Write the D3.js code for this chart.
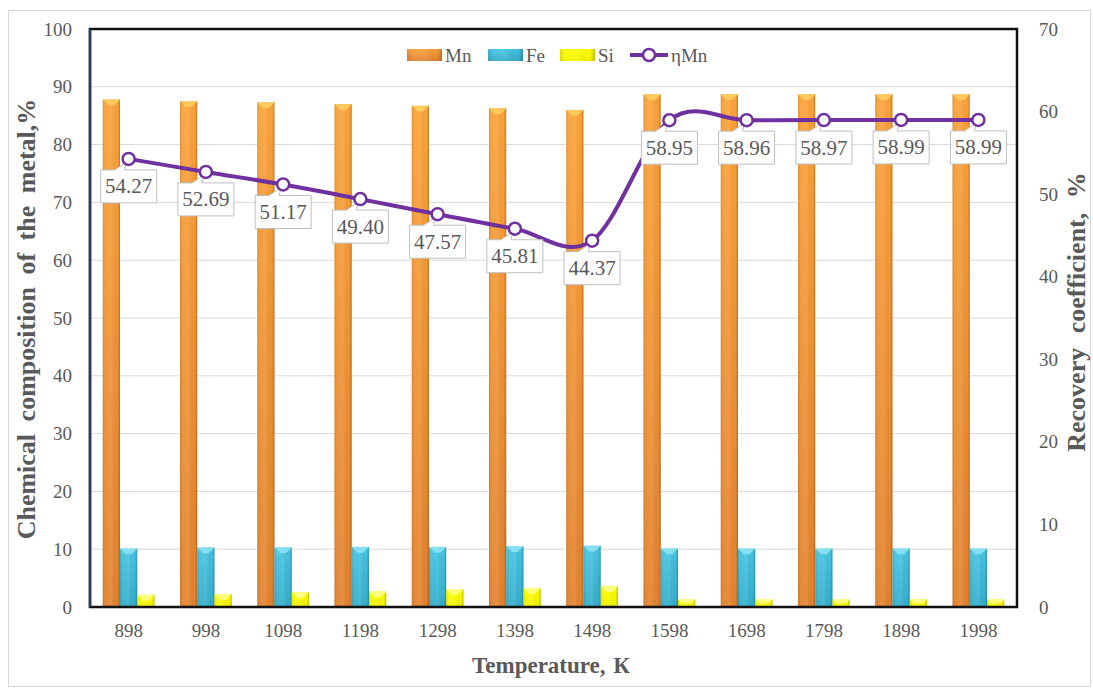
<!DOCTYPE html>
<html><head><meta charset="utf-8">
<script src="https://cdn.jsdelivr.net/npm/d3@7"></script>
<style>html,body{margin:0;padding:0;background:#fff;}svg{display:block;}
svg text{font-family:"Liberation Serif","Times New Roman",Tinos,"DejaVu Serif",serif;}</style>
</head><body>
<svg id="c" width="1093" height="688"></svg>
<script>
const categories = ["898","998","1098","1198","1298","1398","1498","1598","1698","1798","1898","1998"];
const mnValues = [87.8,87.5,87.3,87.0,86.7,86.3,86.0,88.7,88.7,88.7,88.7,88.7];
const feValues = [10.1,10.3,10.3,10.4,10.4,10.5,10.6,10.1,10.1,10.1,10.1,10.1];
const siValues = [2.1,2.25,2.6,2.7,3.1,3.3,3.6,1.3,1.3,1.3,1.3,1.3];
const etaMn = [54.27,52.69,51.17,49.40,47.57,45.81,44.37,58.95,58.96,58.97,58.99,58.99];
const etaLabels = ["54.27","52.69","51.17","49.40","47.57","45.81","44.37","58.95","58.96","58.97","58.99","58.99"];
const leftTicks = [0,10,20,30,40,50,60,70,80,90,100];
const rightTicks = [0,10,20,30,40,50,60,70];
const seriesNames = ["Mn","Fe","Si"];

const svg = d3.select("#c");
const L=90,R=1017,T=29,B=607;
const gray = "#595959";

const defs = svg.append("defs");
function vgrad(id, top, bottom){
  const g = defs.append("linearGradient").attr("id",id).attr("x1","0").attr("x2","0").attr("y1","0").attr("y2","1");
  g.append("stop").attr("offset",0).attr("stop-color",top);
  g.append("stop").attr("offset",1).attr("stop-color",bottom);
}
vgrad("gMn","#FBA23A","#E2822E");
vgrad("gFe","#46C4E2","#34ADCB");
vgrad("gSi","#FFFF00","#F2F200");
const shade = defs.append("linearGradient").attr("id","shade").attr("x1","0").attr("x2","1").attr("y1","0").attr("y2","0");
[[0,"#000",0.12],[0.15,"#fff",0.05],[0.5,"#fff",0.1],[0.85,"#000",0.0],[1,"#000",0.22]].forEach(s=>
  shade.append("stop").attr("offset",s[0]).attr("stop-color",s[1]).attr("stop-opacity",s[2]));
const fills = {Mn:"url(#gMn)",Fe:"url(#gFe)",Si:"url(#gSi)"};
const tops = {Mn:"#FFD060",Fe:"#8FE3F5",Si:"#FFFF90"};

svg.append("rect").attr("x",8.5).attr("y",10.5).attr("width",1082).attr("height",676)
  .attr("fill","none").attr("stroke","#d9d9d9").attr("stroke-width",1);

const x = d3.scaleBand().domain(categories).range([L,R]).paddingInner(0.33).paddingOuter(0.165);
const xs = d3.scaleBand().domain(seriesNames).range([0,x.bandwidth()]);
const y = d3.scaleLinear().domain([0,100]).range([B,T]);
const y2 = d3.scaleLinear().domain([0,70]).range([B,T]);

svg.append("g").selectAll("line").data(leftTicks.filter(d=>d>0)).join("line")
  .attr("x1",L).attr("x2",R).attr("y1",d=>y(d)).attr("y2",d=>y(d))
  .attr("stroke","#d9d9d9").attr("stroke-width",1);

const data = categories.map((c,i)=>({c, Mn:mnValues[i], Fe:feValues[i], Si:siValues[i]}));
const gBars = svg.append("g");
seriesNames.forEach(s=>{
  const g = gBars.append("g");
  g.selectAll("rect.b").data(data).join("rect").attr("class","b")
    .attr("x",d=>x(d.c)+xs(s)).attr("width",xs.bandwidth())
    .attr("y",d=>y(d[s])).attr("height",d=>y(0)-y(d[s]))
    .attr("fill",fills[s]);
  g.selectAll("rect.s").data(data).join("rect").attr("class","s")
    .attr("x",d=>x(d.c)+xs(s)).attr("width",xs.bandwidth())
    .attr("y",d=>y(d[s])).attr("height",d=>y(0)-y(d[s]))
    .attr("fill","url(#shade)");
  const bev = Math.min(6, xs.bandwidth()/3);
  g.selectAll("path").data(data).join("path")
    .attr("d",d=>{
      const x0=x(d.c)+xs(s), x1=x0+xs.bandwidth(), yt=y(d[s]);
      const h = Math.min(bev, (y(0)-yt)/2);
      return `M${x0},${yt}L${x1},${yt}L${x1-h},${yt+h}L${x0+h},${yt+h}Z`;
    })
    .attr("fill",tops[s]).attr("opacity",0.85);
});

svg.append("rect").attr("x",L).attr("y",T).attr("width",R-L).attr("height",B-T)
  .attr("fill","none").attr("stroke","#111").attr("stroke-width",2.5);
svg.append("line").attr("x1",L).attr("x2",L).attr("y1",T).attr("y2",B).attr("stroke","#2a3f5f").attr("stroke-width",2.5);

const axL = svg.append("g").attr("transform",`translate(${L},0)`)
  .call(d3.axisLeft(y).tickValues(leftTicks).tickSize(0).tickPadding(18));
const axR = svg.append("g").attr("transform",`translate(${R},0)`)
  .call(d3.axisRight(y2).tickValues(rightTicks).tickSize(0).tickPadding(22));
const axB = svg.append("g").attr("transform",`translate(0,${B})`)
  .call(d3.axisBottom(x).tickSize(0).tickPadding(17));
[axL,axR,axB].forEach(a=>{
  a.select(".domain").remove();
  a.attr("font-family",null);
  a.selectAll("text").attr("font-size",19).attr("fill",gray);
});

const pts = categories.map((c,i)=>[x(c)+x.bandwidth()/2, y2(etaMn[i])]);
svg.append("path").attr("d",d3.line().curve(d3.curveCardinal.tension(0))(pts))
  .attr("fill","none").attr("stroke","#7030A0").attr("stroke-width",4);

const lab = svg.append("g");
pts.forEach((p,i)=>{
  const bw=56,bh=33,cx=p[0],top=p[1]+11;
  const bx=cx-bw/2;
  const path = `M${bx},${top}L${cx-14},${top}L${p[0]-2},${p[1]+3}L${cx-4},${top}L${bx+bw},${top}L${bx+bw},${top+bh}L${bx},${top+bh}Z`;
  lab.append("path").attr("d",path).attr("fill","#fff").attr("stroke","#bfbfbf").attr("stroke-width",1);
  lab.append("text").attr("x",cx).attr("y",top+bh/2+7).attr("text-anchor","middle")
    .attr("font-size",21).attr("fill",gray).text(etaLabels[i]);
});
svg.append("g").selectAll("circle").data(pts).join("circle")
  .attr("cx",d=>d[0]).attr("cy",d=>d[1]).attr("r",6)
  .attr("fill","#fff").attr("stroke","#7030A0").attr("stroke-width",2.5);

svg.append("text").attr("transform",`translate(35,319) rotate(-90)`).attr("text-anchor","middle")
  .attr("font-size",26).attr("font-weight","bold").attr("fill",gray)
  .attr("word-spacing",6).text("Chemical composition of the metal,%");
svg.append("text").attr("transform",`translate(1085,312) rotate(-90)`).attr("text-anchor","middle")
  .attr("font-size",26).attr("font-weight","bold").attr("fill",gray)
  .attr("word-spacing",8).text("Recovery coefficient, %");
svg.append("text").attr("x",551).attr("y",673).attr("text-anchor","middle")
  .attr("font-size",23).attr("font-weight","bold").attr("fill",gray)
  .attr("word-spacing",2).text("Temperature, К");

const leg = svg.append("g");
const legItems = [
  {name:"Mn",x:407,type:"bar",fill:fills.Mn},
  {name:"Fe",x:488,type:"bar",fill:fills.Fe},
  {name:"Si",x:560,type:"bar",fill:fills.Si},
  {name:"ηMn",x:630,type:"line"}
];
legItems.forEach(it=>{
  if(it.type==="bar"){
    leg.append("rect").attr("x",it.x).attr("y",49).attr("width",35).attr("height",12).attr("fill",it.fill);
    leg.append("rect").attr("x",it.x).attr("y",49).attr("width",35).attr("height",12).attr("fill","url(#shade)");
    leg.append("text").attr("x",it.x+38).attr("y",62).attr("font-size",19).attr("fill",gray).text(it.name);
  } else {
    leg.append("line").attr("x1",it.x).attr("x2",it.x+38).attr("y1",55).attr("y2",55).attr("stroke","#7030A0").attr("stroke-width",4);
    leg.append("circle").attr("cx",it.x+19).attr("cy",55).attr("r",6).attr("fill","#fff").attr("stroke","#7030A0").attr("stroke-width",2.5);
    leg.append("text").attr("x",it.x+41).attr("y",62).attr("font-size",19).attr("fill",gray).text(it.name);
  }
});
</script>
</body></html>
